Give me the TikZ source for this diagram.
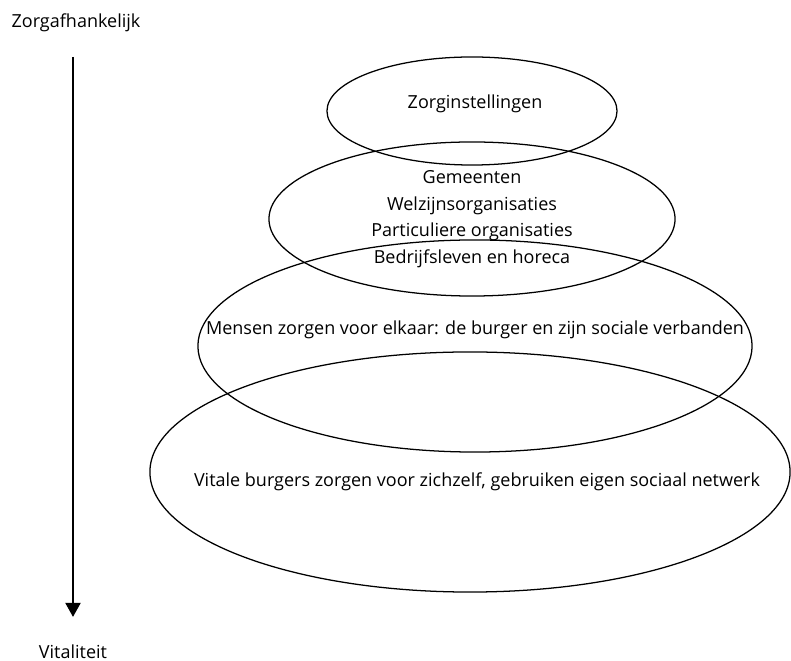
\documentclass[tikz,border=0pt]{standalone}
\usepackage{fontspec}
\setmainfont{Open Sans}
\usetikzlibrary{shapes.geometric,arrows.meta}

\begin{document}
\begin{tikzpicture}[
  x=0.025cm, y=-0.025cm,
  ring/.style n args={2}{draw, ellipse, line width=0.9pt, inner sep=0pt,
    minimum width=#1*0.05cm, minimum height=#2*0.05cm},
  txt/.style={font=\fontsize{12.8}{18.9}\selectfont, align=center, inner sep=0pt},
  axis/.style={-{Triangle[width=10.5pt,length=10pt]}, line width=1.9pt}
]
\useasboundingbox (0,0) rectangle (791,661);

% ellipses, top to bottom
\node[ring={145}{54}] (instel) at (472,111) {};
\node[ring={203}{77}] (gemeente) at (472,219) {};
\node[ring={277}{106}] (mensen) at (475,346) {};
\node[ring={320}{120}] (vitaal) at (470,472) {};

% texts
\node[txt] (instel_txt) at (475,104) {Zorginstellingen};
\node[txt] (gemeente_txt) at (472,219) {Gemeenten\\Welzijnsorganisaties\\Particuliere organisaties\\Bedrijfsleven en horeca};
\node[txt] (mensen_txt) at (475,330) {Mensen zorgen voor elkaar: de burger en zijn sociale verbanden};
\node[txt] (vitaal_txt) at (477,482) {Vitale burgers zorgen voor zichzelf, gebruiken eigen sociaal netwerk};

% axis
\node[txt] (top) at (76,23) {Zorgafhankelijk};
\node[txt] (bottom) at (73,652) {Vitaliteit};
\coordinate (axis_top) at (73,57);
\coordinate (axis_end) at (73,617);
\draw[axis] (axis_top) -- (axis_end);

\end{tikzpicture}
\end{document}
